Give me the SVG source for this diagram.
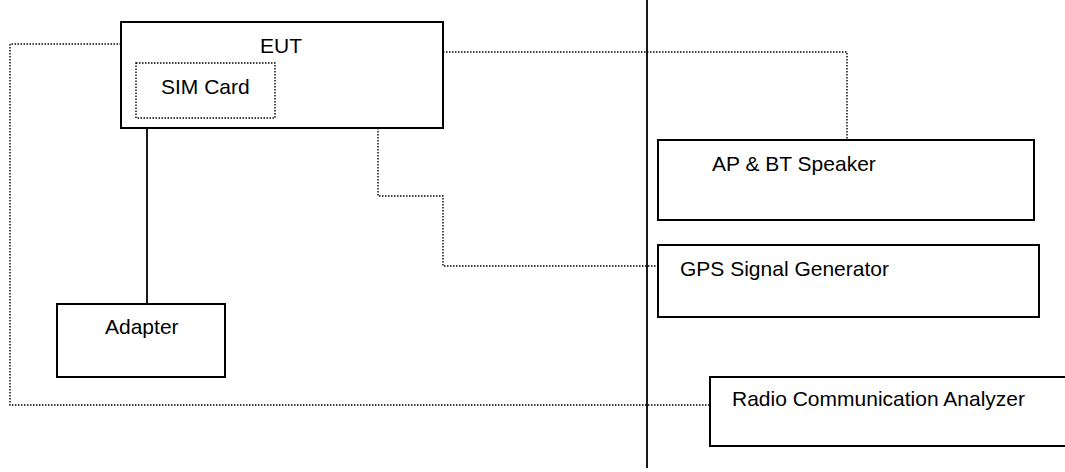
<svg xmlns="http://www.w3.org/2000/svg" width="1065" height="472" viewBox="0 0 1065 472">
<style>
.box{fill:#fff;stroke:#000;stroke-width:2}
.dot{fill:none;stroke:#000;stroke-width:1.4;stroke-dasharray:1.5 1.5}
.solid{fill:none;stroke:#000;stroke-width:1.8}
text{font-family:"Liberation Sans",Arial,sans-serif;font-size:21px;fill:#000}
</style>
<rect width="1065" height="472" fill="#fff"/>
<g id="connectors">
<line class="solid" x1="647" y1="0" x2="647" y2="468"/>
<polyline class="dot" points="121,44 10,44 10,405 710,405"/>
<polyline class="dot" points="443,52 847,52 847,140"/>
<polyline class="dot" points="378,128 378,196 443,196 443,266 658,266"/>
<line class="solid" x1="147" y1="128" x2="147" y2="304"/>
</g>
<g id="eut">
<rect class="box" x="121" y="22" width="322" height="106"/>
<text x="281" y="53" text-anchor="middle">EUT</text>
</g>
<g id="sim">
<rect class="dot" x="136" y="63" width="139" height="55"/>
<text x="161" y="94">SIM Card</text>
</g>
<g id="adapter">
<rect class="box" x="57" y="304" width="168" height="73"/>
<text x="105" y="334">Adapter</text>
</g>
<g id="ap">
<rect class="box" x="658" y="140" width="376" height="80"/>
<text x="712" y="171">AP &amp; BT Speaker</text>
</g>
<g id="gps">
<rect class="box" x="658" y="245" width="381" height="72"/>
<text x="680" y="276">GPS Signal Generator</text>
</g>
<g id="radio">
<rect class="box" x="710" y="377" width="365" height="69"/>
<text x="732" y="406">Radio Communication Analyzer</text>
</g>
</svg>
